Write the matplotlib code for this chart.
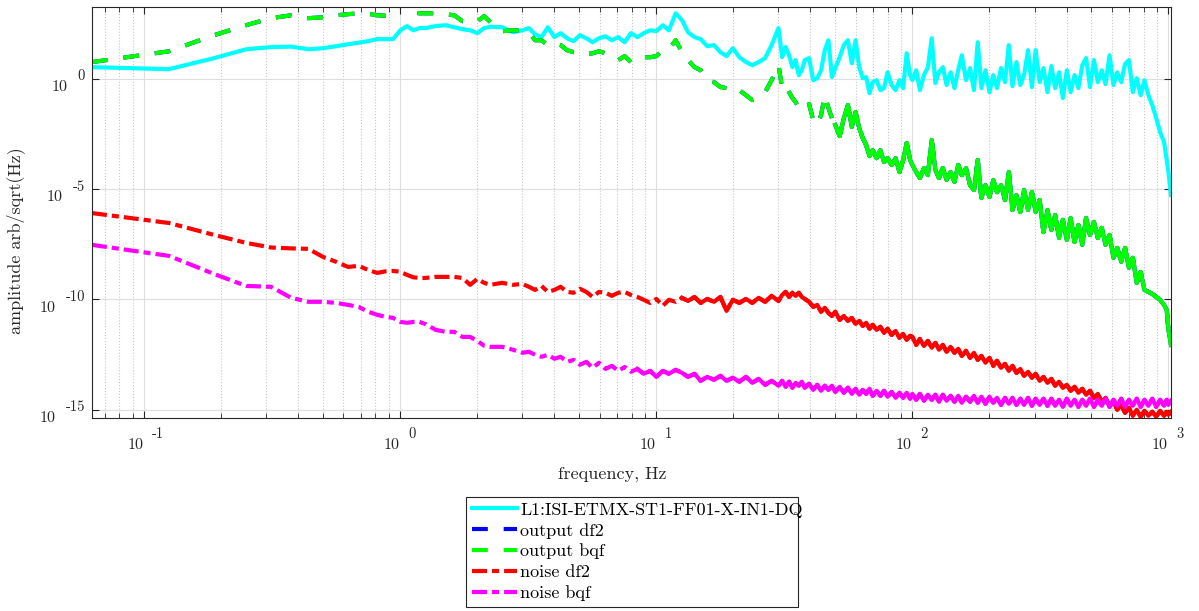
import numpy as np
import matplotlib
matplotlib.use('Agg')
import matplotlib.pyplot as plt
from matplotlib.patches import Rectangle
from matplotlib.transforms import offset_copy
from matplotlib.ticker import FixedLocator, LogLocator, NullLocator, NullFormatter

# frequency bins of the spectra [Hz]
freq = [
    0.0625, 0.125, 0.1875, 0.25, 0.3125, 0.375, 0.4375, 0.5, 0.5625, 0.625,
    0.6875, 0.75, 0.8125, 0.875, 0.9375, 1.0, 1.0625, 1.125, 1.1875, 1.25,
    1.375, 1.5, 1.625, 1.75, 1.875, 2.0, 2.125, 2.25, 2.5, 2.75,
    3.0, 3.18, 3.36, 3.56, 3.77, 4.0, 4.23, 4.48, 4.75, 5.03,
    5.33, 5.64, 5.97, 6.33, 6.7, 7.1, 7.52, 7.96, 8.43, 8.93,
    9.46, 10.0, 10.6, 11.2, 11.9, 12.6, 13.3, 14.1, 14.9, 15.8,
    16.8, 17.8, 18.8, 19.9, 21.1, 22.4, 23.7, 25.1, 26.6, 28.2,
    30, 31, 32, 33, 34, 35, 36, 37, 38, 39.5,
    41, 42.5, 44, 45.5, 47, 48.5, 50, 52, 54, 56,
    58, 60, 62, 64, 66, 68, 70, 72.5, 75, 77.5,
    80, 83, 86, 89, 92, 95, 98,
    100, 103.5, 107, 111, 115, 119, 123, 127, 131.5, 136,
    141, 146, 151, 156, 162, 168, 174, 180, 186, 193,
    200, 207, 214, 222, 230, 238, 246, 255, 264, 273,
    283, 293, 303, 314, 325, 337, 349, 361, 374, 387,
    401, 415, 430, 445, 461, 477, 494, 512, 530, 549,
    568, 589, 610, 631, 654, 677, 701, 726, 752, 779,
    806, 835, 865, 896, 928, 961, 985, 1000, 1024,
]

# log10 of the amplitude spectral densities
ifo_log = [
    0.52, 0.43, 0.93, 1.33, 1.43, 1.45, 1.33, 1.38, 1.47, 1.56,
    1.63, 1.70, 1.79, 1.79, 1.79, 2.19, 2.38, 2.19, 2.29, 2.29,
    2.38, 2.42, 2.33, 2.24, 2.19, 2.06, 2.29, 2.35, 2.33, 2.10,
    2.19, 2.29, 2.01, 1.88, 2.33, 1.88, 2.06, 1.83, 1.70, 1.97,
    1.83, 1.65, 1.83, 1.92, 1.74, 1.88, 1.65, 2.06, 1.88, 2.06,
    2.19, 2.15, 2.42, 2.19, 2.96, 2.65, 2.10, 1.88, 1.79, 1.47,
    1.52, 1.20, 1.02, 1.38, 0.97, 0.75, 0.61, 0.75, 0.93, 1.52,
    2.29, 0.97, 1.43, 1.06, 0.52, 0.84, 0.16, 0.38, 0.84, 0.93,
    -0.07, 0.02, 0.38, 1.29, 1.74, 0.07, 0.48, 0.97, 1.52, 1.74,
    0.70, 1.74, 0.52, 0.02, 0.07, -0.66, -0.16, -0.07, -0.52, -0.43,
    0.29, -0.29, -0.52, -0.07, -0.43, 1.15, 0.16,
    -0.07, 0.38, -0.52, 0.16, 0.52, 1.83, -0.20, 0.29, 0.52, -0.29,
    0.29, -0.43, 0.38, 1.06, -0.07, 0.48, -0.52, 1.65, -0.43, 0.38,
    -0.61, 0.16, -0.43, 0.48, -0.16, 1.52, -0.34, 0.75, -0.29, 0.16,
    1.29, -0.38, 1.29, -0.16, 0.48, -0.61, 0.57, -0.43, 0.29, -0.88,
    0.38, -0.61, 0.16, -0.43, 0.61, 0.93, -0.38, 0.84, -0.16, 0.38,
    -0.25, 1.06, -0.29, 0.29, -0.16, 0.66, 0.84, -0.61, 0.02, -0.75,
    -0.07, -0.75, -1.20, -1.79, -2.42, -2.87, -3.69, -4.23, -5.27,
]

out_bqf_log = [
    0.75, 1.24, 1.97, 2.42, 2.74, 2.87, 2.74, 2.78, 2.87, 2.92,
    2.96, 2.94, 2.87, 2.85, 2.87, 3.60, 3.30, 3.00, 2.96, 2.96,
    2.96, 2.92, 2.87, 2.60, 2.56, 2.60, 2.83, 2.56, 2.15, 2.19,
    2.19, 2.10, 1.74, 1.74, 1.52, 1.61, 1.52, 1.29, 1.20, 1.20,
    1.11, 1.15, 1.24, 1.15, 0.97, 0.84, 1.02, 0.75, 0.97, 0.97,
    0.97, 1.02, 1.29, 1.33, 1.74, 1.20, 0.84, 0.52, 0.38, -0.07,
    -0.16, -0.38, -0.43, -0.34, -0.52, -0.75, -0.97, -0.88, -0.61, -0.07,
    0.61, -0.43, -0.29, -0.61, -0.88, -1.06, -1.33, -1.43, -1.33, -1.15,
    -1.88, -2.10, -1.65, -0.75, -1.33, -1.79, -2.10, -2.60, -1.79, -1.20,
    -2.19, -1.52, -2.24, -2.69, -3.01, -3.51, -3.24, -3.60, -3.24, -3.78,
    -3.60, -3.91, -3.60, -4.23, -3.69, -2.92, -3.69,
    -3.91, -4.23, -4.50, -4.05, -4.37, -2.78, -4.14, -4.50, -4.05, -4.59,
    -4.23, -4.68, -3.91, -4.37, -4.05, -4.82, -5.04, -3.69, -5.41, -4.82,
    -5.36, -4.59, -5.14, -4.82, -5.50, -4.23, -5.95, -5.27, -6.04, -5.04,
    -5.95, -5.14, -6.04, -5.50, -6.95, -5.95, -6.86, -6.18, -7.22, -6.40,
    -7.31, -6.31, -7.40, -6.63, -7.53, -6.31, -7.08, -6.49, -7.22, -6.76,
    -7.53, -7.08, -8.12, -7.67, -8.30, -7.67, -8.57, -8.12, -9.25, -8.76,
    -9.57, -9.66, -9.75, -9.89, -10.02, -10.25, -10.48, -11.38, -12.06,
]

# df2 and biquad outputs are identical to plotting precision
out_df2_log = list(out_bqf_log)

noise_df2_log = [
    -6.09, -6.54, -7.08, -7.44, -7.65, -7.69, -7.71, -8.08, -8.30, -8.53,
    -8.48, -8.67, -8.80, -8.73, -8.71, -8.75, -8.89, -9.00, -9.03, -9.03,
    -8.98, -8.98, -8.98, -9.03, -9.34, -9.07, -9.25, -9.34, -9.25, -9.34,
    -9.30, -9.43, -9.57, -9.39, -9.66, -9.57, -9.43, -9.66, -9.70, -9.52,
    -9.66, -9.89, -9.66, -9.70, -9.84, -9.70, -9.66, -9.80, -9.89, -10.02,
    -10.16, -9.98, -10.29, -10.02, -10.11, -9.93, -10.07, -9.89, -10.16, -9.98,
    -10.11, -9.89, -10.52, -10.02, -10.16, -9.98, -10.16, -9.93, -10.11, -9.84,
    -10.07, -9.80, -9.66, -9.89, -9.70, -9.84, -9.70, -9.89, -9.98, -10.11,
    -10.34, -10.25, -10.56, -10.38, -10.61, -10.75, -10.56, -10.93, -10.75, -10.97,
    -10.84, -11.11, -10.97, -11.20, -11.06, -11.33, -11.15, -11.38, -11.24, -11.52,
    -11.33, -11.61, -11.43, -11.74, -11.56, -11.83, -11.65,
    -11.70, -12.06, -11.79, -12.10, -11.88, -12.19, -11.97, -12.28, -12.06, -12.37,
    -12.15, -12.42, -12.24, -12.56, -12.33, -12.65, -12.42, -12.74, -12.56, -12.87,
    -12.65, -13.01, -12.78, -13.10, -12.92, -13.24, -13.01, -13.33, -13.15, -13.46,
    -13.28, -13.55, -13.37, -13.69, -13.51, -13.78, -13.60, -13.91, -13.73, -14.00,
    -13.87, -14.14, -13.96, -14.23, -14.05, -14.32, -14.14, -14.46, -14.28, -14.64,
    -14.46, -14.82, -14.64, -15.00, -14.78, -15.14, -14.91, -15.27, -15.00, -15.32,
    -15.05, -15.27, -15.09, -15.32, -15.05, -15.27, -15.09, -15.23, -15.09,
]

noise_bqf_log = [
    -7.53, -8.03, -8.85, -9.39, -9.43, -9.93, -10.11, -10.11, -10.16, -10.25,
    -10.34, -10.56, -10.70, -10.79, -10.84, -11.02, -11.06, -11.02, -11.02, -11.11,
    -11.38, -11.47, -11.47, -11.70, -11.70, -11.88, -12.10, -12.15, -12.15, -12.28,
    -12.42, -12.37, -12.51, -12.60, -12.51, -12.69, -12.60, -12.83, -12.74, -12.96,
    -12.83, -13.10, -12.87, -13.15, -13.01, -13.24, -13.06, -13.28, -13.15, -13.37,
    -13.24, -13.51, -13.24, -13.37, -13.19, -13.33, -13.51, -13.37, -13.69, -13.51,
    -13.64, -13.46, -13.69, -13.55, -13.73, -13.51, -13.78, -13.60, -13.87, -13.69,
    -13.91, -13.69, -13.96, -13.73, -14.00, -13.78, -13.91, -13.73, -14.00, -13.82,
    -14.10, -13.87, -14.14, -13.91, -14.10, -13.91, -14.19, -13.96, -14.23, -14.00,
    -14.28, -14.05, -14.32, -14.10, -14.28, -14.05, -14.37, -14.14, -14.37, -14.14,
    -14.41, -14.19, -14.46, -14.23, -14.46, -14.23, -14.50,
    -14.28, -14.55, -14.28, -14.59, -14.32, -14.55, -14.32, -14.64, -14.32, -14.59,
    -14.37, -14.64, -14.37, -14.68, -14.41, -14.64, -14.37, -14.68, -14.41, -14.73,
    -14.41, -14.68, -14.46, -14.78, -14.46, -14.73, -14.46, -14.78, -14.50, -14.78,
    -14.46, -14.82, -14.50, -14.78, -14.50, -14.82, -14.50, -14.82, -14.55, -14.87,
    -14.50, -14.82, -14.55, -14.87, -14.55, -14.82, -14.50, -14.87, -14.55, -14.82,
    -14.50, -14.87, -14.55, -14.82, -14.50, -14.87, -14.55, -14.82, -14.50, -14.87,
    -14.55, -14.82, -14.50, -14.87, -14.55, -14.82, -14.55, -14.78, -14.59,
]

labels = ['L1:ISI-ETMX-ST1-FF01-X-IN1-DQ', 'output df2', 'output bqf',
          'noise df2', 'noise bqf']

x_decades = [1e-1, 1e0, 1e1, 1e2, 1e3]
y_decades = [1e-15, 1e-10, 1e-5, 1e0]

plt.rcParams['font.family'] = ['cmr10', 'DejaVu Serif']
plt.rcParams['mathtext.fontset'] = 'cm'

AXIS_COLOR = '#262626'
DASHED = (0, (3.8, 3.8))
DASH_DOT = (0, (3.6, 1.2, 1.7, 1.2))

fig = plt.figure(figsize=(11.99, 6.11), dpi=100)
ax = fig.add_axes([0.0767, 0.3160, 0.9000, 0.6727])

f = np.array(freq)
series = [
    (ifo_log, (0, 1, 1), '-', None),
    (out_df2_log, (0, 0, 1), DASHED, 50),
    (out_bqf_log, (0, 1, 0), DASHED, 50),
    (noise_df2_log, (1, 0, 0), DASH_DOT, 12),
    (noise_bqf_log, (1, 0, 1), DASH_DOT, 8),
]
for (values, color, style, dense_from), label in zip(series, labels):
    amp = 10.0 ** np.array(values)
    ax.loglog(f, amp, color=color, lw=3, ls=style, label=label)
    if dense_from is not None:
        # above this frequency the dashes of the noisy trace run together
        m = f >= dense_from
        ax.loglog(f[m], amp[m], color=color, lw=3, ls='-')

ax.set_xlim(0.0625, 1024)
ax.set_ylim(10 ** -15.37, 10 ** 3.25)

ax.xaxis.set_major_locator(FixedLocator(x_decades))
ax.xaxis.set_minor_locator(LogLocator(base=10, subs=np.arange(2, 10), numticks=12))
ax.xaxis.set_major_formatter(NullFormatter())
ax.xaxis.set_minor_formatter(NullFormatter())
ax.yaxis.set_major_locator(FixedLocator(y_decades))
ax.yaxis.set_minor_locator(NullLocator())
ax.yaxis.set_major_formatter(NullFormatter())

ax.grid(which='major', color='#dedede', lw=0.8, ls='-')
ax.grid(which='minor', axis='x', color='#c8c8c8', lw=0.8, ls=':')
ax.set_axisbelow(True)

ax.tick_params(which='both', direction='in', top=True, right=True,
               color=AXIS_COLOR)
ax.tick_params(which='major', length=5, width=0.8)
ax.tick_params(which='minor', length=3.5, width=0.6)
for spine in ax.spines.values():
    spine.set_color(AXIS_COLOR)
    spine.set_linewidth(0.8)

# decade labels: "10" with a raised exponent of nearly the same size
xt = ax.get_xaxis_transform()
for v in x_decades:
    e = int(round(np.log10(v)))
    ax.text(v, 0, '10', transform=offset_copy(xt, fig, x=-1, y=-31, units='dots'),
            ha='right', va='baseline', fontsize=11.5, color=AXIS_COLOR)
    ax.text(v, 0, '%d' % e, transform=offset_copy(xt, fig, x=8, y=-20, units='dots'),
            ha='left', va='baseline', fontsize=10.5, color=AXIS_COLOR)

yt = ax.get_yaxis_transform()
for v in y_decades:
    e = int(round(np.log10(v)))
    sup = ax.text(0, v, '%d' % e, transform=offset_copy(yt, fig, x=-7, y=-1.5, units='dots'),
                  ha='right', va='baseline', fontsize=10.5, color=AXIS_COLOR)
    ax.annotate('10', xy=(0, 0), xycoords=sup, xytext=(-7, -5.5),
                textcoords='offset points', ha='right', va='baseline',
                fontsize=11.5, color=AXIS_COLOR)

ax.set_xlabel('frequency, Hz', fontsize=13, color=AXIS_COLOR)
ax.xaxis.set_label_coords(0.482, -0.1175)
ax.set_ylabel('amplitude arb/sqrt(Hz)', fontsize=13, color=AXIS_COLOR)
ax.yaxis.set_label_coords(-0.0616, 0.432)

handles, names = ax.get_legend_handles_labels()
fig.legend(handles, names, loc='upper left',
           bbox_to_anchor=(472 / 1199, 1 - 502 / 611),
           bbox_transform=fig.transFigure, frameon=False, fontsize=13,
           handlelength=2.5, handletextpad=0.17, labelspacing=0.28,
           borderpad=0, borderaxespad=0)
# the legend frame is narrower than the long channel name
fig.add_artist(Rectangle((0.3884, 0.0070), 0.2769, 0.1800,
                         transform=fig.transFigure, fill=False,
                         edgecolor=AXIS_COLOR, lw=0.8))

fig.savefig('out.png', dpi=100)
